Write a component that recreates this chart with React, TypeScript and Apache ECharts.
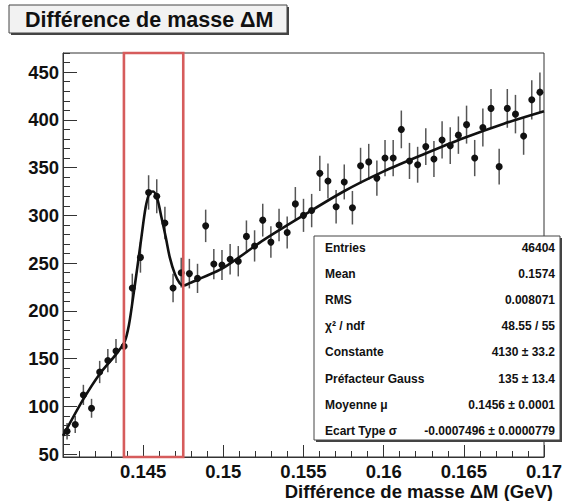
import React, { useEffect, useRef } from "react";
import * as echarts from "echarts";

// Histogram binning of the mass difference (GeV)
const X_MIN = 0.14;
const X_MAX = 0.17;
const N_BINS = 59;

// Y range of the frame
const Y_MIN = 47;
const Y_MAX = 470;

// Tick positions on the y axis
const yMajorTicks = [50, 100, 150, 200, 250, 300, 350, 400, 450];
const Y_MINOR_STEP = 10;

// Bin contents (events per bin)
const counts = [
  74, 81, 112, 98, 136, 148, 158, 163, 224, 256,
  324, 320, 292, 224, 240, 239, 234, 289, 249, 248,
  254, 252, 278, 268, 295, 272, 290, 282, 312, 300,
  305, 344, 336, 309, 335, 308, 352, 356, 339, 360,
  360, 390, 357, 353, 372, 359, 379, 373, 384, 395,
  360, 392, 412, 351, 412, 406, 383, 421, 429,
];

// Fitted function (background + gaussian) sampled along x
const fitX = [
  0.14, 0.14125, 0.14229, 0.14333, 0.14385, 0.14412, 0.14437, 0.14464, 0.14489,
  0.14516, 0.14541, 0.14562, 0.14587, 0.14614, 0.14641, 0.14666, 0.14697, 0.14728,
  0.14753, 0.1479, 0.1485, 0.15, 0.1525, 0.155, 0.1575, 0.16, 0.1625, 0.165, 0.1675, 0.17,
];
const fitY = [
  69, 107, 134, 155, 168, 186, 214, 246, 277,
  309, 324, 325, 318, 298, 277, 256, 239, 229,
  226.5, 229, 233.5, 245, 274, 300, 325, 346, 364, 381, 396, 409,
];

// Signal window around the peak
const windowLow = 0.1438;
const windowHigh = 0.1475;

// Statistics box entries
const statLabels = [
  "Entries", "Mean", "RMS", "χ² / ndf", "Constante",
  "Préfacteur Gauss", "Moyenne μ", "Ecart Type σ",
];
const statValues = [
  "46404", "0.1574", "0.008071", "48.55 / 55", "4130 ± 33.2",
  "135 ± 13.4", "0.1456 ± 0.0001", "-0.0007496 ± 0.0000779",
];

const TITLE = "Différence de masse ΔM";
const X_TITLE = "Différence de masse ΔM (GeV)";

const FONT = '"Liberation Sans", Arial, Helvetica, sans-serif';
const INK = "#111";
const FRAME = "#333";

export default function App() {
  const ref = useRef<HTMLDivElement>(null);

  useEffect(() => {
    if (!ref.current) return;
    const chart = echarts.init(ref.current, undefined, { renderer: "svg" });

    const binWidth = (X_MAX - X_MIN) / N_BINS;
    // Poisson errors on each bin
    const histData = counts.map((c, i) => [X_MIN + (i + 0.5) * binWidth, c, Math.sqrt(c)]);
    const fitData = fitX.map((x, i) => [x, fitY[i]]);

    const yMinorTicks: number[] = [];
    for (let v = yMajorTicks[0]; v <= Y_MAX; v += Y_MINOR_STEP) yMinorTicks.push(v);

    const statRowTop = 248;
    const statRowStep = 26.1;
    const statGraphics: any[] = [];
    statLabels.forEach((label, i) => {
      const y = statRowTop + i * statRowStep;
      statGraphics.push({
        type: "text",
        x: 325,
        y,
        z: 12,
        style: { text: label, font: `bold 12px ${FONT}`, fill: INK, verticalAlign: "middle", align: "left" },
      });
      statGraphics.push({
        type: "text",
        x: 555,
        y,
        z: 12,
        style: { text: statValues[i], font: `bold 12px ${FONT}`, fill: INK, verticalAlign: "middle", align: "right" },
      });
    });

    chart.setOption({
      animation: false,
      backgroundColor: "#fff",
      grid: {
        left: 63,
        right: 22,
        top: 53,
        bottom: 44,
        show: true,
        backgroundColor: "#fff",
        borderColor: FRAME,
        borderWidth: 1,
      },
      xAxis: {
        type: "value",
        min: X_MIN,
        max: X_MAX,
        interval: 0.005,
        axisLine: { show: true, lineStyle: { color: FRAME, width: 1 } },
        axisTick: { show: true, inside: true, length: 12, lineStyle: { color: FRAME } },
        minorTick: { show: true, splitNumber: 5, length: 6, lineStyle: { color: FRAME } },
        splitLine: { show: false },
        axisLabel: {
          showMinLabel: false,
          margin: 5,
          fontSize: 18.5,
          lineHeight: 18,
          fontWeight: "bold",
          fontFamily: FONT,
          color: INK,
          formatter: (v: number) => String(+v.toFixed(3)),
        },
      },
      yAxis: [
        {
          type: "value",
          min: Y_MIN,
          max: Y_MAX,
          position: "left",
          axisLine: { show: true, lineStyle: { color: FRAME, width: 1 } },
          axisTick: {
            show: true,
            inside: true,
            length: 14,
            customValues: yMajorTicks,
            lineStyle: { color: FRAME },
          },
          splitLine: { show: false },
          axisLabel: {
            customValues: yMajorTicks,
            margin: 4,
            fontSize: 18.5,
            fontWeight: "bold",
            fontFamily: FONT,
            color: INK,
          },
        },
        {
          type: "value",
          min: Y_MIN,
          max: Y_MAX,
          position: "left",
          axisLine: { show: false },
          axisTick: {
            show: true,
            inside: true,
            length: 7,
            customValues: yMinorTicks,
            lineStyle: { color: FRAME },
          },
          splitLine: { show: false },
          axisLabel: { show: false },
        },
      ],
      series: [
        {
          name: "histogram",
          type: "custom",
          xAxisIndex: 0,
          yAxisIndex: 0,
          data: histData,
          z: 3,
          renderItem: (_params: any, api: any) => {
            const x = api.value(0);
            const y = api.value(1);
            const e = api.value(2);
            const p = api.coord([x, y]);
            const top = api.coord([x, y + e]);
            const bot = api.coord([x, y - e]);
            return {
              type: "group",
              children: [
                {
                  type: "line",
                  shape: { x1: p[0], y1: top[1], x2: p[0], y2: bot[1] },
                  style: { stroke: "#555", lineWidth: 1.5 },
                },
                {
                  type: "circle",
                  shape: { cx: p[0], cy: p[1], r: 3.5 },
                  style: { fill: INK },
                },
              ],
            };
          },
        },
        {
          name: "fit",
          type: "line",
          xAxisIndex: 0,
          yAxisIndex: 0,
          data: fitData,
          showSymbol: false,
          smooth: 0.3,
          z: 4,
          lineStyle: { color: INK, width: 2.6 },
        },
        {
          name: "window",
          type: "custom",
          xAxisIndex: 0,
          yAxisIndex: 0,
          data: [[windowLow, windowHigh]],
          z: 5,
          renderItem: (_params: any, api: any) => {
            const a = api.coord([api.value(0), Y_MAX]);
            const b = api.coord([api.value(1), Y_MIN]);
            return {
              type: "rect",
              shape: { x: a[0], y: a[1], width: b[0] - a[0], height: b[1] - a[1] },
              style: { fill: "none", stroke: "#d65c5c", lineWidth: 2.6 },
            };
          },
        },
      ],
      graphic: [
        // title pave with shadow
        { type: "rect", shape: { x: 11, y: 7, width: 278, height: 28 }, style: { fill: "#444" }, z: 10 },
        {
          type: "rect",
          shape: { x: 9, y: 5, width: 278, height: 28 },
          style: { fill: "#f2f2f2", stroke: "#444", lineWidth: 1 },
          z: 11,
        },
        {
          type: "text",
          x: 25,
          y: 20,
          z: 12,
          style: { text: TITLE, font: `bold 21.5px ${FONT}`, fill: INK, verticalAlign: "middle" },
        },
        // statistics box with shadow
        { type: "rect", shape: { x: 316, y: 238, width: 246, height: 204 }, style: { fill: "#444" }, z: 10 },
        {
          type: "rect",
          shape: { x: 314, y: 236, width: 246, height: 204 },
          style: { fill: "#fff", stroke: "#444", lineWidth: 1 },
          z: 11,
        },
        { type: "group", z: 12, children: statGraphics },
        // x-axis title
        {
          type: "text",
          x: 553,
          y: 491.5,
          z: 12,
          style: { text: X_TITLE, font: `bold 18.5px ${FONT}`, fill: INK, align: "right", verticalAlign: "middle" },
        },
      ],
    });

    return () => chart.dispose();
  }, []);

  return (
    <div
      ref={ref}
      style={{ position: "absolute", left: 0, top: 0, width: 566, height: 501 }}
    />
  );
}
